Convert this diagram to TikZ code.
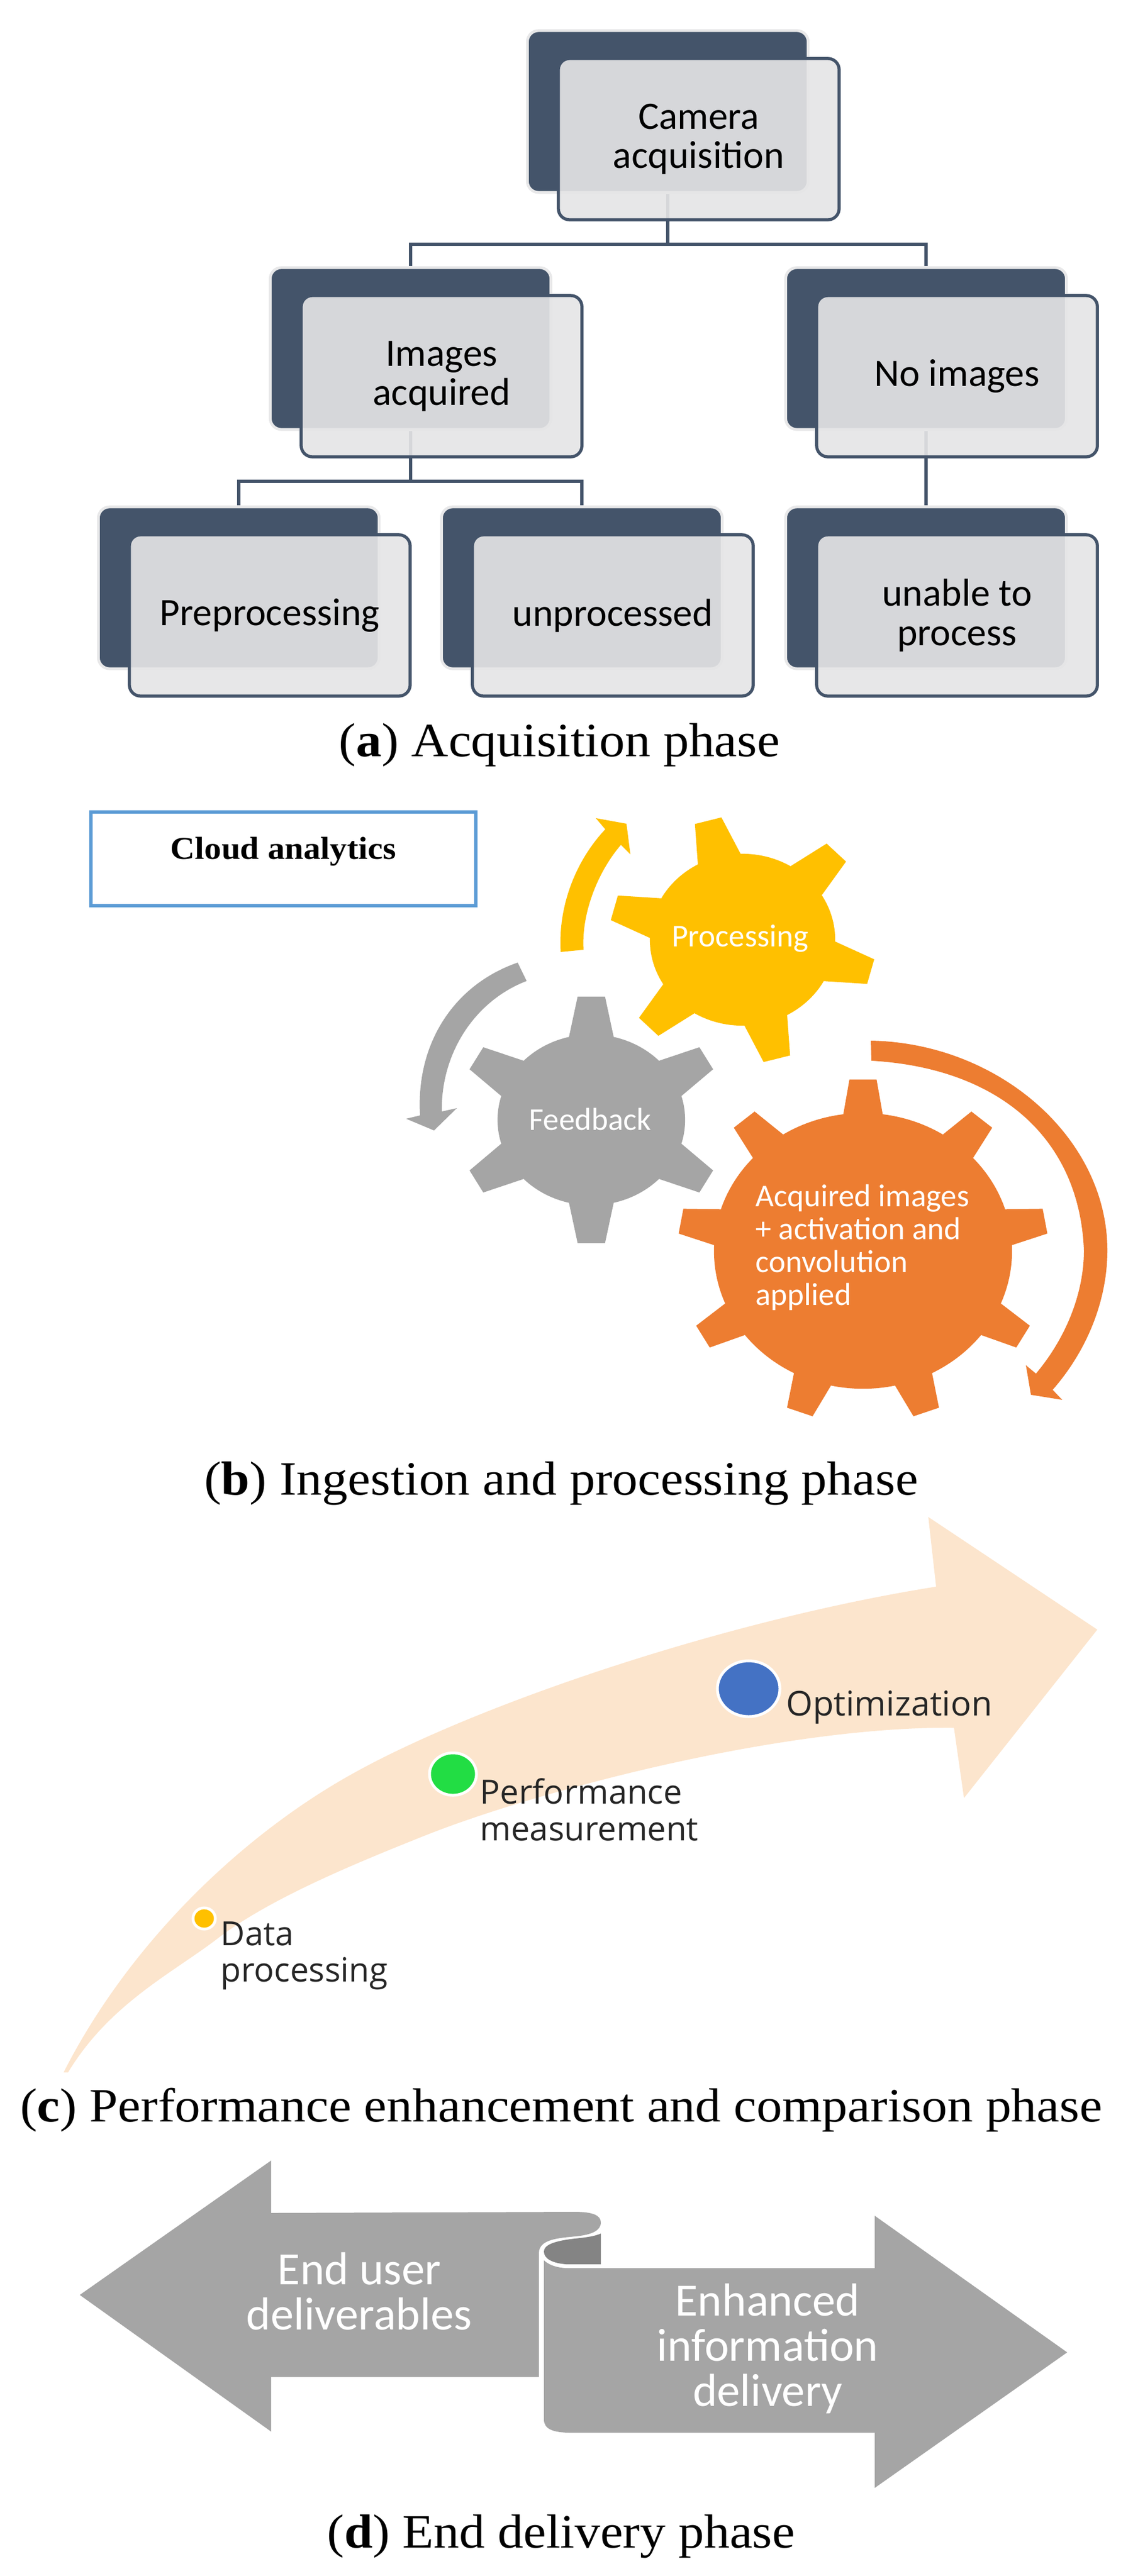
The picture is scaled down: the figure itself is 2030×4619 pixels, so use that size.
\documentclass[tikz,border=0pt]{standalone}
\usepackage{fontspec}
\usepackage{xcolor}
\usetikzlibrary{shapes.geometric}
\setmainfont{Carlito}
\newfontfamily\capfont{Liberation Serif}[FakeStretch=1.07]
\newfontfamily\stepfont{Open Sans}
\definecolor{SlateBlue}{HTML}{44546A}
\definecolor{HaloGray}{HTML}{E8E8E9}
\definecolor{CardGray}{HTML}{E5E5E6}
\definecolor{CogYellow}{HTML}{FFC000}
\definecolor{CogGray}{HTML}{A5A5A5}
\definecolor{CogOrange}{HTML}{ED7D31}
\definecolor{FoldGray}{HTML}{848484}
\definecolor{RibbonPeach}{HTML}{FCE5CD}
\definecolor{CloudBlue}{HTML}{5B9BD5}
\definecolor{DotGreen}{HTML}{22DD44}
\definecolor{DotBlue}{HTML}{4472C4}

% cog: colour, centre, body radii, tip radii, root half-angle, tip half-angle, tooth angles
\newcommand{\cog}[7]{
  \begin{scope}[shift={(#2)}]
    \fill[#1] (0,0) ellipse (#3);
    \foreach \a in {#7} {
      \fill[#1] ({\a-#5}:#3) -- ({\a-#6}:#4) -- ({\a+#6}:#4) -- ({\a+#5}:#3) -- cycle;
    }
  \end{scope}
}

\begin{document}
\begin{tikzpicture}[
  x=0.01cm, y=-0.01cm,
  back/.style={draw=HaloGray, fill=SlateBlue, line width=0.05cm, rounded corners=0.2cm,
    minimum width=5.03cm, minimum height=2.90cm, inner sep=0pt},
  front/.style={draw=SlateBlue, fill=CardGray, fill opacity=0.91, draw opacity=1, text opacity=1,
    line width=0.055cm, rounded corners=0.2cm, minimum width=5.03cm, minimum height=2.89cm,
    inner sep=0pt, align=center, font=\fontsize{19.8}{20}\selectfont},
  link/.style={draw=SlateBlue, line width=0.06cm},
  caption/.style={font=\capfont\fontsize{24.4}{28}\selectfont, inner sep=0pt},
  cogtext/.style={text=white, align=left, inner sep=0pt, font=\fontsize{16.2}{16.8}\selectfont},
  steplabel/.style={anchor=west, text=black!85, align=left, inner sep=0pt, font=\stepfont\fontsize{17}{18.6}\selectfont},
  dot/.style={ellipse, draw=white, fill=#1, line width=0.05cm, inner sep=0pt},
  ribbontext/.style={text=white, align=center, inner sep=0pt, font=\fontsize{23.6}{23}\selectfont}
  ]
\useasboundingbox (0,0) rectangle (2030,4619);

% Acquisition phase: back cards
\node[back] (camback) at (1197,200) {};
\node[back] (imgback) at (736,625) {};
\node[back] (noimgback) at (1660,625) {};
\node[back] (preback) at (428,1054) {};
\node[back] (unback) at (1043,1054) {};
\node[back] (unableback) at (1660,1054) {};

% Links run under the front cards
\coordinate (camjoin) at (1197,438);
\coordinate (imgjoin) at (736,863);
\draw[link] (camback.south) -- (camjoin) -| (imgback.north);
\draw[link] (camjoin) -| (noimgback.north);
\draw[link] (imgback.south) -- (imgjoin) -| (preback.north);
\draw[link] (imgjoin) -| (unback.north);
\draw[link] (noimgback.south) -- (unableback.north);

% Front cards
\node[front] (cam) at ([xshift=0.555cm, yshift=-0.495cm]camback.center) {Camera\\acquisition};
\node[front] (img) at ([xshift=0.555cm, yshift=-0.495cm]imgback.center) {Images\\acquired};
\node[front] (noimg) at ([xshift=0.555cm, yshift=-0.495cm]noimgback.center) {No images};
\node[front] (pre) at ([xshift=0.555cm, yshift=-0.495cm]preback.center) {Preprocessing};
\node[front] (un) at ([xshift=0.555cm, yshift=-0.495cm]unback.center) {unprocessed};
\node[front] (unable) at ([xshift=0.555cm, yshift=-0.495cm]unableback.center) {unable to\\process};

\node[caption] (capa) at (1003,1336) {(\textbf{a}) Acquisition phase};

% Cloud box
\node[draw=CloudBlue, line width=0.06cm, minimum width=6.9cm, minimum height=1.68cm, inner sep=0pt,
  text height=0.3cm, text depth=0.3cm, font=\capfont\bfseries\fontsize{16.2}{18}\selectfont] (cloud) at (508,1540) {Cloud analytics};

% Curved arrows
\fill[CogYellow] (1005,1707) .. controls (1000,1620) and (1035,1540) .. (1085,1487)
  -- (1068,1467) -- (1123,1477) -- (1130,1532) -- (1113,1515)
  .. controls (1070,1565) and (1042,1640) .. (1046,1703) -- cycle;
\fill[CogGray] (928,1726) .. controls (815,1765) and (745,1870) .. (753,2000)
  -- (728,2006) -- (778,2027) -- (819,1987) -- (792,1993)
  .. controls (790,1890) and (850,1795) .. (944,1759) -- cycle;
\fill[CogOrange] (1561,1866) .. controls (1790,1870) and (1985,2040) .. (1985,2242)
  .. controls (1985,2330) and (1950,2420) .. (1887,2492)
  -- (1904,2510) -- (1848,2501) -- (1839,2448) -- (1857,2463)
  .. controls (1910,2400) and (1943,2320) .. (1943,2242)
  .. controls (1935,2040) and (1790,1915) .. (1562,1902) -- cycle;

% Cogs
\coordinate (cogfeed) at (1060,2008);
\coordinate (cogproc) at (1331,1685);
\coordinate (cogacq) at (1547,2243);
\cog{CogGray}{cogfeed}{1.68cm and 1.53cm}{2.39cm and 2.22cm}{13.8}{5.9}{90,30,-30,-90,-150,150}
\cog{CogYellow}{cogproc}{1.66cm and 1.54cm}{2.39cm and 2.22cm}{13.8}{5.9}{105,45,-15,-75,-135,165}
\cog{CogOrange}{cogacq}{2.67cm and 2.47cm}{3.32cm and 3.08cm}{7.6}{4.2}{90,50,10,-30,-70,-110,-150,170,130}

\node[cogtext] (feed) at (1058,2007) {Feedback};
\node[cogtext] (proc) at (1327,1683) {Processing};
\node[cogtext] (acq) at (1546,2237) {Acquired images\\+ activation and\\convolution\\applied};

\node[caption] (capb) at (1006,2660) {(\textbf{b}) Ingestion and processing phase};

% Rising arrow
\fill[RibbonPeach] (114,3716) .. controls (234,3480) and (440,3285) .. (640,3176)
  .. controls (860,3055) and (1300,2905) .. (1678,2845)
  -- (1664,2720) -- (1967,2922) -- (1728,3224) -- (1710,3098)
  .. controls (1400,3095) and (960,3212) .. (760,3292)
  .. controls (640,3340) and (480,3405) .. (386,3479)
  .. controls (305,3540) and (195,3595) .. (122,3716) -- cycle;

\node[dot=CogYellow, minimum width=0.40cm, minimum height=0.38cm] (datadot) at (366,3440) {};
\node[dot=DotGreen, minimum width=0.84cm, minimum height=0.76cm] (perfdot) at (812,3181) {};
\node[dot=DotBlue, minimum width=1.12cm, minimum height=1.0cm] (optdot) at (1342,3028) {};
\node[steplabel] (data) at (395,3507) {Data\\processing};
\node[steplabel] (perf) at (860,3245) {Performance\\measurement};
\node[steplabel, font=\stepfont\fontsize{17.4}{20}\selectfont] (opt) at (1409,3061) {Optimization};

\node[caption] (capc) at (1006,3783) {(\textbf{c}) Performance enhancement and comparison phase};

% Scroll arrows
\fill[CogGray] (143,4115) -- (486,3874) -- (486,3968) -- (1030,3966)
  .. controls (1062,3966) and (1077,3972) .. (1077,3985)
  .. controls (1077,4000) and (1060,4006) .. (1040,4009)
  .. controls (1010,4013) and (966,4012) .. (966,4040)
  -- (966,4262) -- (486,4262) -- (486,4360) -- cycle;
\fill[FoldGray] (1077,4005) -- (1077,4060) -- (1015,4060)
  .. controls (990,4058) and (975,4050) .. (975,4037)
  .. controls (975,4025) and (995,4018) .. (1030,4014)
  .. controls (1050,4012) and (1065,4010) .. (1077,4005) -- cycle;
\fill[CogGray] (975,4053) .. controls (985,4062) and (1000,4067) .. (1020,4067)
  -- (1568,4067) -- (1568,3973) -- (1913,4218) -- (1568,4461) -- (1568,4362) -- (1024,4362)
  .. controls (990,4362) and (975,4355) .. (975,4338) -- cycle;

\node[ribbontext] (enduser) at (644,4108) {End user\\deliverables};
\node[ribbontext] (enhanced) at (1376,4211) {Enhanced\\information\\delivery};

\node[caption] (capd) at (1006,4548) {(\textbf{d}) End delivery phase};
\end{tikzpicture}
\end{document}
